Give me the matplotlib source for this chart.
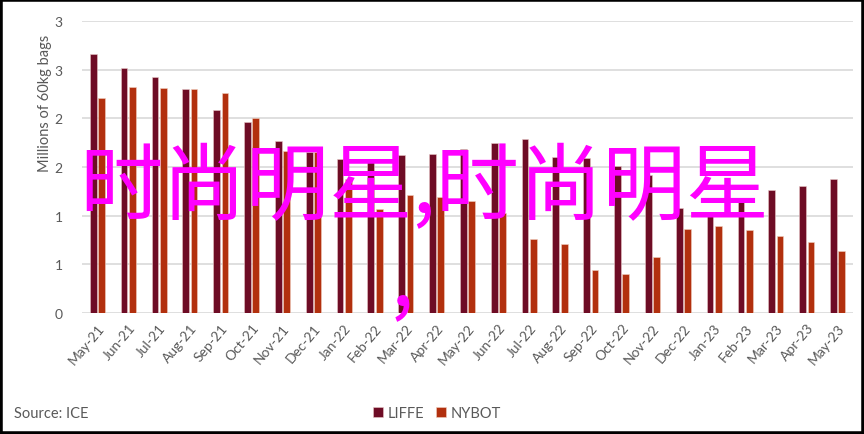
import matplotlib
matplotlib.use('Agg')
from matplotlib import pyplot as plt
from matplotlib.patches import Rectangle
import numpy as np

# data (millions of 60kg bags)
months = ['May-21', 'Jun-21', 'Jul-21', 'Aug-21', 'Sep-21', 'Oct-21', 'Nov-21', 'Dec-21',
          'Jan-22', 'Feb-22', 'Mar-22', 'Apr-22', 'May-22', 'Jun-22', 'Jul-22', 'Aug-22',
          'Sep-22', 'Oct-22', 'Nov-22', 'Dec-22', 'Jan-23', 'Feb-23', 'Mar-23', 'Apr-23', 'May-23']
liffe = [2.66, 2.52, 2.42, 2.30, 2.09, 1.96, 1.77, 1.65, 1.58, 1.55, 1.62, 1.63, 1.69,
         1.75, 1.79, 1.60, 1.59, 1.51, 1.42, 1.08, 1.03, 1.18, 1.26, 1.30, 1.38]
nybot = [2.21, 2.32, 2.31, 2.30, 2.26, 2.00, 1.66, 1.65, 1.38, 1.07, 1.21, 1.19, 1.15,
         1.03, 0.76, 0.71, 0.44, 0.40, 0.58, 0.86, 0.89, 0.85, 0.79, 0.73, 0.64]
yticks = [0, 0.5, 1, 1.5, 2, 2.5, 3]
ytick_labels = ['0', '1', '1', '2', '2', '3', '3']

plt.rcParams['font.family'] = ['Lato', 'DejaVu Sans']
grey = '#595959'

fig = plt.figure(figsize=(8.64, 4.35), dpi=100)
ax = fig.add_axes([82 / 864, 1 - 314 / 435, (853 - 82) / 864, (314 - 22) / 435])

x = np.arange(len(months))
w = 0.22
ax.bar(x - 0.135, liffe, w, color='#6E0C25', edgecolor='#e8c8c8', linewidth=0.4, label='LIFFE', zorder=3)
ax.bar(x + 0.135, nybot, w, color='#B2300E', edgecolor='#f0d0c0', linewidth=0.4, label='NYBOT', zorder=3)

ax.set_xlim(-0.5, len(months) - 0.5)
ax.set_ylim(0, 3)
ax.set_yticks(yticks)
ax.set_yticklabels(ytick_labels, color=grey, fontsize=10)
ax.set_xticks(x)
ax.set_xticklabels(months, rotation=50, ha='right', rotation_mode='anchor', color=grey, fontsize=10)
ax.tick_params(length=0, axis='y', pad=14)
ax.tick_params(length=0, axis='x', pad=6)
ax.grid(axis='y', color='#d9d9d9', linewidth=1.2, zorder=0)
for s in ax.spines.values():
    s.set_visible(False)

fig.text(45 / 864, 1 - 103 / 435, 'Millions of 60kg bags', rotation=90, ha='center', va='center',
         color=grey, fontsize=10.5)
fig.text(14 / 864, 1 - 414 / 435, 'Source: ICE', ha='left', va='center', color=grey, fontsize=10.5)
fig.legend(loc='center', bbox_to_anchor=(437 / 864, 1 - 414 / 435), ncol=2, frameon=False,
           handlelength=0.7, handleheight=0.7, handletextpad=0.3, columnspacing=0.8,
           fontsize=10.5, labelcolor=grey)

# overlay text
cjk = ['Noto Sans CJK SC', 'DejaVu Sans']
fig.text(79 / 864, 1 - 189 / 435, '时尚明星,时尚明星', family=cjk, color='#FF00FF', fontsize=60,
         ha='left', va='center')
fig.text(402 / 864, 1 - 281 / 435, ',', family=cjk, color='#FF00FF', fontsize=60,
         ha='center', va='center')

fig.patches.append(Rectangle((0, 0), 1, 1, transform=fig.transFigure, fill=False,
                             edgecolor='black', linewidth=4, clip_on=False))

plt.savefig('out.png', dpi=100)
